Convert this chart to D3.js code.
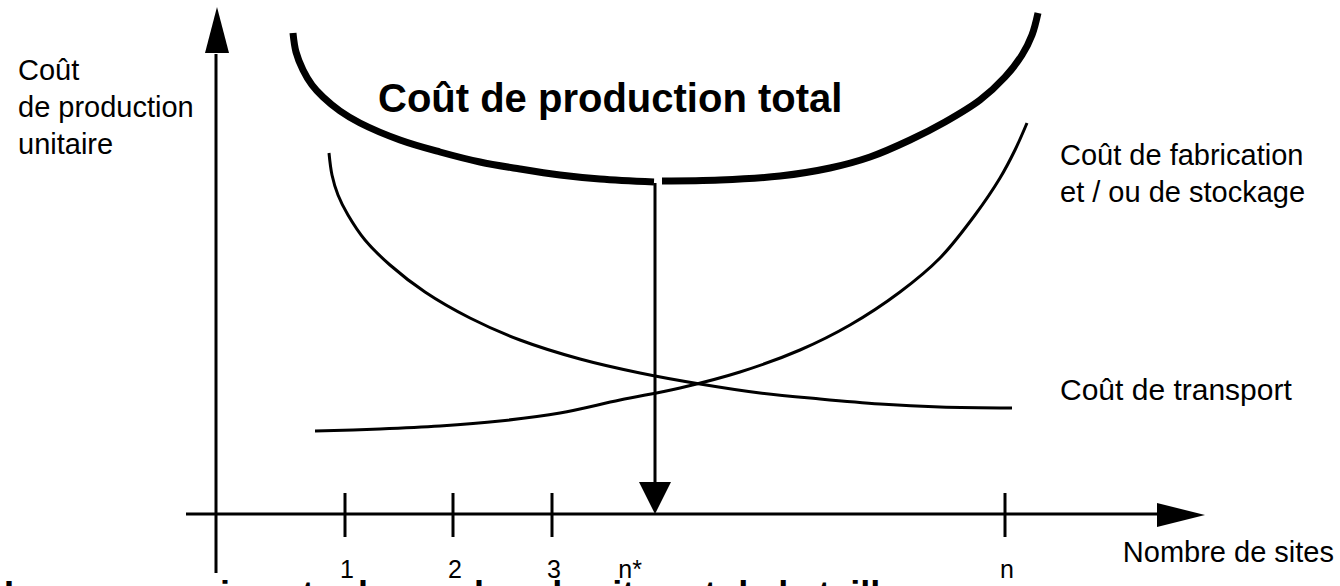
<!DOCTYPE html>
<html>
<head>
<meta charset="utf-8">
<script src="https://cdn.jsdelivr.net/npm/d3@7"></script>
<style>
  body { margin: 0; background: #fff; }
  svg { display: block; font-family: "Liberation Sans", Arial, sans-serif; }
</style>
</head>
<body>
<svg width="1340" height="586"></svg>
<script>
// curves, in chart units (x: 0..100 along the axis, y: 0..100 up the axis)
var totalLeft = [[7.7,96.2],[8.0,92.4],[8.7,88.8],[9.6,85.8],[10.7,83.4],[12.4,80.6],[14.4,78.2],[18.4,74.8],[22.4,72.4],[26.4,70.4],[30.4,69],[34.4,67.8],[38.4,67],[43.8,66.4]];
var totalRight = [[44.6,66.6],[50.4,66.8],[56.4,67.6],[61.4,69.2],[65.4,71.4],[69.4,74.8],[72.9,78.4],[76.4,82.8],[78.9,87.4],[80.6,91.8],[81.6,95.8],[82.2,100.2]];
var transport = [[11.3,72.2],[11.6,67.8],[12.2,63.8],[13.2,59.8],[14.9,54.8],[17.4,49.8],[20.9,44.4],[25.4,39.2],[30.4,34.8],[36.4,31],[42.4,28.2],[48.4,26],[54.4,24.2],[60.4,23],[66.4,22],[72.4,21.4],[79.6,21.2]];
var fabrication = [[9.9,16.6],[16.4,17],[22.4,17.6],[28.4,18.6],[34.4,20.2],[40.4,22.8],[46.4,25.2],[52.4,28.4],[58.4,32.8],[63.4,37.8],[68.4,44.4],[72.4,51.2],[75.9,59.8],[78.4,67.2],[79.9,72.8],[81.1,78.2]];

var ticks = [12.9, 23.7, 33.6, 78.9];
var tickLabels = ["1", "2", "3", "n"];
var nStar = 43.9, nStarTop = 66.2;
var yLabel = ["Coût", "de production", "unitaire"];
var fabLabel = ["Coût de fabrication", "et / ou de stockage"];

var svg = d3.select("svg");
var x = d3.scaleLinear().domain([0, 100]).range([216, 1216]),
    y = d3.scaleLinear().domain([0, 100]).range([514, 14]);

var line = d3.line()
  .curve(d3.curveCatmullRom)
  .x(function(d) { return x(d[0]); })
  .y(function(d) { return y(d[1]); });

// axes
svg.append("line")
  .attr("x1", x(-3)).attr("x2", x(95)).attr("y1", y(0)).attr("y2", y(0))
  .attr("stroke", "#000").attr("stroke-width", 3);
svg.append("line")
  .attr("x1", x(0)).attr("x2", x(0)).attr("y1", y(-11.8)).attr("y2", y(92))
  .attr("stroke", "#000").attr("stroke-width", 3);

// arrow heads
function head(tx, ty, angle, len, half) {
  svg.append("path")
    .attr("d", "M0,0L" + (-len) + "," + (-half) + "L" + (-len) + "," + half + "Z")
    .attr("transform", "translate(" + tx + "," + ty + ") rotate(" + angle + ")")
    .attr("fill", "#000");
}
head(x(98.9), y(0) + 1, 0, 48, 12);
head(x(0) + 1, y(101.4), -90, 46, 12);

// ticks
svg.selectAll(".tick").data(ticks).enter().append("line")
  .attr("class", "tick")
  .attr("x1", function(d) { return x(d); }).attr("x2", function(d) { return x(d); })
  .attr("y1", y(0) - 21).attr("y2", y(0) + 23)
  .attr("stroke", "#000").attr("stroke-width", 3);

svg.selectAll(".tlab").data(ticks).enter().append("text")
  .attr("class", "tlab")
  .attr("x", function(d) { return x(d) + 2; })
  .attr("y", 578)
  .attr("text-anchor", "middle")
  .style("font-size", "25px")
  .text(function(d, i) { return tickLabels[i]; });

svg.append("text")
  .attr("x", x(nStar) - 13).attr("y", 578)
  .attr("text-anchor", "end")
  .style("font-size", "25px")
  .text("n*");

// curves
svg.append("path").attr("d", line(totalLeft))
  .attr("fill", "none").attr("stroke", "#000").attr("stroke-width", 7);
svg.append("path").attr("d", line(totalRight))
  .attr("fill", "none").attr("stroke", "#000").attr("stroke-width", 7);
svg.append("path").attr("d", line(transport))
  .attr("fill", "none").attr("stroke", "#000").attr("stroke-width", 3);
svg.append("path").attr("d", line(fabrication))
  .attr("fill", "none").attr("stroke", "#000").attr("stroke-width", 3);

// n* arrow
svg.append("line")
  .attr("x1", x(nStar)).attr("x2", x(nStar)).attr("y1", y(nStarTop)).attr("y2", y(0) - 30)
  .attr("stroke", "#000").attr("stroke-width", 3);
head(x(nStar), y(0), 90, 32, 16);

// labels
svg.append("g").selectAll("text").data(yLabel).enter().append("text")
  .attr("x", 18).attr("y", function(d, i) { return 80 + i * 37; })
  .style("font-size", "29px")
  .text(function(d) { return d; });

svg.append("g").selectAll("text").data(fabLabel).enter().append("text")
  .attr("x", 1060).attr("y", function(d, i) { return 165 + i * 37; })
  .style("font-size", "29px")
  .text(function(d) { return d; });

svg.append("text").attr("x", 1060).attr("y", 400)
  .style("font-size", "30px").text("Coût de transport");

svg.append("text").attr("x", 1334).attr("y", 562)
  .attr("text-anchor", "end")
  .style("font-size", "29px").text("Nombre de sites");

svg.append("text").attr("x", 378).attr("y", 112)
  .style("font-size", "40px").style("font-weight", "bold")
  .text("Coût de production total");

// caption cut off at the bottom of the picture
svg.append("text").attr("x", 4).attr("y", 607)
  .style("font-size", "36px").style("font-weight", "bold")
  .text("Le compromis entre le nombre de sites et de la taille");
</script>
</body>
</html>
